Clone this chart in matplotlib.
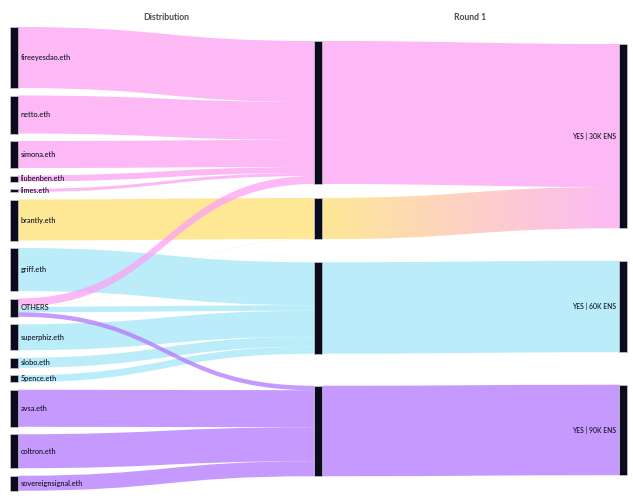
"""
Sankey of delegate voting power: Distribution -> Round 1 -> result.
"""

import numpy as np
import matplotlib
matplotlib.use("Agg")
import matplotlib.pyplot as plt
from matplotlib.path import Path
from matplotlib.patches import PathPatch, Rectangle
from matplotlib.colors import to_rgba


# =====================================================
# Data
# =====================================================

DELEGATES = [
    "fireeyesdao.eth", "netto.eth", "simona.eth", "liubenben.eth",
    "limes.eth", "brantly.eth", "griff.eth", "OTHERS", "superphiz.eth",
    "slobo.eth", "5pence.eth", "avsa.eth", "coltron.eth",
    "sovereignsignal.eth",
]

# Round 1 nodes carry no label in the chart
GROUPS = ["R1_A", "R1_B", "R1_C", "R1_D"]

OUTCOMES = ["YES | 30K ENS", "YES | 60K ENS", "YES | 90K ENS"]

GROUP_OUTCOME = ["YES | 30K ENS", "YES | 30K ENS", "YES | 60K ENS",
                 "YES | 90K ENS"]

FLOW_FROM = [
    "fireeyesdao.eth", "netto.eth", "simona.eth", "liubenben.eth",
    "limes.eth", "brantly.eth", "griff.eth", "superphiz.eth", "slobo.eth",
    "5pence.eth", "avsa.eth", "coltron.eth", "sovereignsignal.eth",
    "OTHERS", "OTHERS", "OTHERS", "OTHERS",
]

FLOW_TO = [
    "R1_A", "R1_A", "R1_A", "R1_A",
    "R1_A", "R1_B", "R1_C", "R1_C", "R1_C",
    "R1_C", "R1_D", "R1_D", "R1_D",
    "R1_A", "R1_B", "R1_C", "R1_D",
]

FLOW_VALUE = [
    61, 38, 27, 6,
    3, 41, 43, 26, 10,
    7, 37, 34, 15,
    8, 0.25, 5.5, 4.5,
]

COLUMN_TITLES = ["Distribution", "Round 1"]


# =====================================================
# Style / layout
# =====================================================

PINK = "#FCA2F3"
YELLOW = "#FEE072"
CYAN = "#A3E8F8"
PURPLE = "#B377FE"
LINK_ALPHA = 0.75

GROUP_COLORS = {"R1_A": PINK, "R1_B": YELLOW, "R1_C": CYAN, "R1_D": PURPLE}
OUTCOME_COLORS = {"YES | 30K ENS": PINK, "YES | 60K ENS": CYAN,
                  "YES | 90K ENS": PURPLE}

NODE_COLOR = "#0b0b1e"
TEXT_COLOR = "#111122"
FONT = ["Lato", "DejaVu Sans"]

W, H = 633, 500
COL_X = [10, 314, 619]
NODE_W = 7.5

LEFT_TOP, LEFT_GAP = 27, 7.5
MID_TOP, MID_GAPS = 41, [14, 23, 32]
RIGHT_TOP, RIGHT_GAP = 44, 32.5


# =====================================================
# Layout
# =====================================================

def build_links():

    links = []

    for s, t, v in zip(FLOW_FROM, FLOW_TO, FLOW_VALUE):
        links.append([s, t, v, GROUP_COLORS[t], GROUP_COLORS[t]])

    for g, o in zip(GROUPS, GROUP_OUTCOME):
        v = sum(val for t, val in zip(FLOW_TO, FLOW_VALUE) if t == g)
        links.append([g, o, v, GROUP_COLORS[g], OUTCOME_COLORS[o]])

    return links


def layout_nodes(links):

    out_sum, in_sum = {}, {}
    for s, t, v, _, _ in links:
        out_sum[s] = out_sum.get(s, 0) + v
        in_sum[t] = in_sum.get(t, 0) + v

    size = {}
    for n in DELEGATES + GROUPS + OUTCOMES:
        size[n] = max(out_sum.get(n, 0), in_sum.get(n, 0))

    pos = {}

    y = LEFT_TOP
    for n in DELEGATES:
        pos[n] = (COL_X[0], y, size[n])
        y += size[n] + LEFT_GAP

    y = MID_TOP
    for i, n in enumerate(GROUPS):
        pos[n] = (COL_X[1], y, size[n])
        if i < len(MID_GAPS):
            y += size[n] + MID_GAPS[i]

    y = RIGHT_TOP
    for n in OUTCOMES:
        pos[n] = (COL_X[2], y, size[n])
        y += size[n] + RIGHT_GAP

    return pos


def link_offsets(links, pos):

    src_off, tgt_off = {}, {}

    order_out = sorted(range(len(links)), key=lambda i: pos[links[i][1]][1])
    used = {}
    for i in order_out:
        s = links[i][0]
        src_off[i] = pos[s][1] + used.get(s, 0)
        used[s] = used.get(s, 0) + links[i][2]

    order_in = sorted(range(len(links)), key=lambda i: pos[links[i][0]][1])
    used = {}
    for i in order_in:
        t = links[i][1]
        tgt_off[i] = pos[t][1] + used.get(t, 0)
        used[t] = used.get(t, 0) + links[i][2]

    return src_off, tgt_off


def link_path(xa, ya, xb, yb, v):

    xm = (xa + xb) / 2
    verts = [
        (xa, ya), (xm, ya), (xm, yb), (xb, yb),
        (xb, yb + v), (xm, yb + v), (xm, ya + v), (xa, ya + v),
        (xa, ya),
    ]
    codes = [
        Path.MOVETO, Path.CURVE4, Path.CURVE4, Path.CURVE4,
        Path.LINETO, Path.CURVE4, Path.CURVE4, Path.CURVE4,
        Path.CLOSEPOLY,
    ]
    return Path(verts, codes)


# =====================================================
# Plot
# =====================================================

def plot_sankey():

    links = build_links()
    pos = layout_nodes(links)
    src_off, tgt_off = link_offsets(links, pos)

    fig = plt.figure(figsize=(W / 100, H / 100), dpi=100)
    ax = fig.add_axes([0, 0, 1, 1])
    ax.set_xlim(0, W)
    ax.set_ylim(H, 0)
    ax.axis("off")

    for i, (s, t, v, c0, c1) in enumerate(links):

        xa = pos[s][0] + NODE_W
        xb = pos[t][0]
        path = link_path(xa, src_off[i], xb, tgt_off[i], v)

        if c0 == c1:
            ax.add_patch(PathPatch(path, facecolor=c0, alpha=LINK_ALPHA,
                                   lw=0, zorder=1))
        else:
            patch = PathPatch(path, facecolor="none", lw=0)
            ax.add_patch(patch)
            a = np.array(to_rgba(c0))
            b = np.array(to_rgba(c1))
            f = np.linspace(0, 1, 256)[:, None]
            grad = (1 - f) * a + f * b
            grad[:, 3] = LINK_ALPHA
            lo = min(src_off[i], tgt_off[i])
            hi = max(src_off[i], tgt_off[i]) + v
            im = ax.imshow(grad[None, :, :], extent=[xa, xb, hi, lo],
                           aspect="auto", interpolation="bilinear",
                           zorder=1)
            im.set_clip_path(patch)

    for n, (x, y, h) in pos.items():
        ax.add_patch(Rectangle((x, y), NODE_W, h, facecolor=NODE_COLOR,
                               edgecolor="#c8c8cc", lw=0.5, zorder=3))

    for n in DELEGATES:
        x, y, h = pos[n]
        ax.text(x + NODE_W + 3, y + h / 2, n, ha="left", va="center",
                fontsize=5.3, color=TEXT_COLOR, family=FONT,
                fontweight="medium", zorder=4)

    for n in OUTCOMES:
        x, y, h = pos[n]
        ax.text(x - 3, y + h / 2, n, ha="right", va="center",
                fontsize=4.9, color=TEXT_COLOR, family=FONT,
                fontweight="medium", zorder=4)

    for k, title in enumerate(COLUMN_TITLES):
        xc = (COL_X[k] + COL_X[k + 1] + NODE_W) / 2
        ax.text(xc, 17, title, ha="center", va="center", fontsize=6.2,
                color="#4a4a4a", fontweight="bold", family=FONT)

    fig.savefig("out.png", dpi=100)
    plt.close(fig)


# =====================================================
# Main
# =====================================================

if __name__ == "__main__":

    plot_sankey()
